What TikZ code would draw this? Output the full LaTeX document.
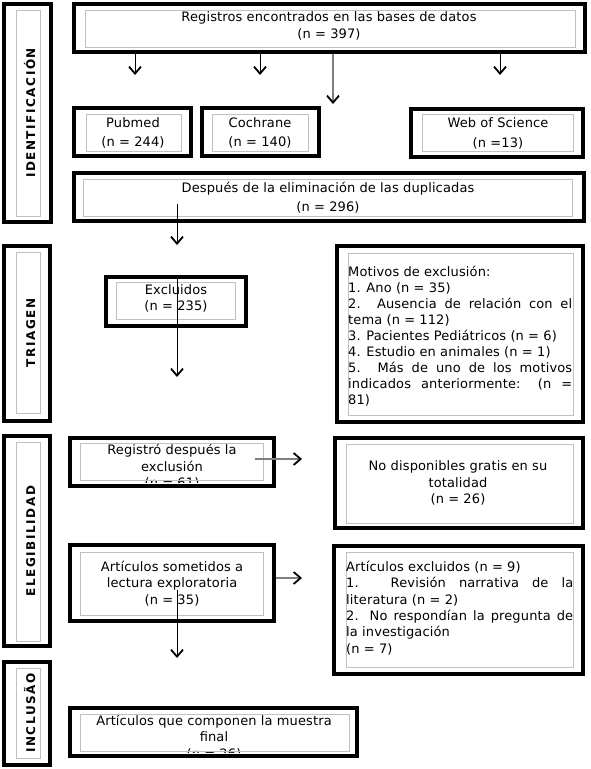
\documentclass[tikz,border=0pt]{standalone}
\usepackage{fontspec}
\setmainfont{DejaVu Sans}[LetterSpace=1]
\newfontfamily\labfont{DejaVu Sans Bold}[LetterSpace=13]
\usetikzlibrary{arrows.meta,fit}
\definecolor{innergray}{HTML}{C0C0C0}
\definecolor{linegray}{HTML}{7F7F7F}
\begin{document}
\begin{tikzpicture}[x=1pt,y=-1pt,
  obox/.style={draw=black, line width=3.4pt, inner sep=0pt},
  ibox/.style={draw=innergray, line width=1pt},
  txt/.style={font=\fontsize{13}{16.5}\selectfont, inner sep=0pt, align=center},
  txtw/.style={font=\fontsize{13}{19.5}\selectfont, inner sep=0pt, align=center},
  lab/.style={font=\labfont\fontsize{12}{14}\selectfont, inner sep=0pt, rotate=90, anchor=base},
  conn/.style={line width=1pt, draw=black, -{Straight Barb[length=7pt,width=12pt,line width=1.8pt 0 1,color=black]}},
  gconn/.style={conn, draw=linegray, line width=1.4pt}
]
\useasboundingbox (0,0) rectangle (590,769);
\fill[white] (0,0) rectangle (590,769);

% ---------- section labels ----------
\node[obox, fit={(4,4) (51,222)}] (l1) {};
\draw[ibox] (16,10) rectangle (40,216);
\node[lab] (l1t) at (35,113) {IDENTIFICACIÓN};

\node[obox, fit={(4,246) (50,421)}] (l2) {};
\draw[ibox] (16,252) rectangle (40,413);
\node[lab] (l2t) at (35,333) {TRIAGEN};

\node[obox, fit={(4,436) (50,646)}] (l3) {};
\draw[ibox] (16,442) rectangle (40,641);
\node[lab] (l3t) at (35,541) {ELEGIBILIDAD};

\node[obox, fit={(4,662) (50,765)}] (l4) {};
\draw[ibox] (16,668) rectangle (40,758);
\node[lab] (l4t) at (35,713) {INCLUSÃO};

% ---------- identification ----------
\node[obox, fit={(74,4) (585,52)}] (top) {};
\draw[ibox] (85,10) rectangle (575,47);
\node[txt] (topt) at (329,26.5) {\strut Registros encontrados en las bases de datos\\(n = 397)\strut};

\node[obox, fit={(74,108) (191,156)}] (pub) {};
\draw[ibox] (86,114) rectangle (181,151);
\node[txtw] (pubt) at (133,133) {\strut Pubmed\\(n = 244)\strut};

\node[obox, fit={(202,108) (319,156)}] (coch) {};
\draw[ibox] (212,114) rectangle (308,151);
\node[txtw] (cocht) at (260,133) {\strut Cochrane\\(n = 140)\strut};

\node[obox, fit={(411,109) (583,157)}] (wos) {};
\draw[ibox] (422,114) rectangle (573,151);
\node[txtw] (wost) at (498,133.5) {\strut Web of Science\\(n =13)\strut};

\node[obox, fit={(74,173) (584,221)}] (dup) {};
\draw[ibox] (83,179) rectangle (572,216);
\node[txtw] (dupt) at (328,198) {\strut Después de la eliminación de las duplicadas\\(n = 296)\strut};

% ---------- triage ----------
\node[obox, fit={(106,277) (246,326)}] (excl) {};
\draw[ibox] (116,282) rectangle (235,319);
\node[txt] (exclt) at (176,299) {\strut Excluidos\\(n = 235)\strut};

\node[obox, fit={(337,246) (583,422)}] (mot) {};
\draw[ibox] (348,253) rectangle (573,415);
\node[font=\fontsize{13}{16}\selectfont, inner sep=0pt, align=left, anchor=west] (mott) at (348,337) {\strut Motivos de exclusión:\\
1. Ano (n = 35)\\
\makebox[224pt][s]{2. Ausencia de relación con el}\\
tema (n = 112)\\
3. Pacientes Pediátricos (n = 6)\\
4. Estudio en animales (n = 1)\\
\makebox[224pt][s]{5. Más de uno de los motivos}\\
\makebox[224pt][s]{indicados anteriormente: (n =}\\
81)\strut};

% ---------- eligibility ----------
\begin{scope}
\clip (70,438) rectangle (274,482);
\node[txt] (regt) at (172,468) {\strut Registró después la\\exclusión\\(n = 61)\strut};
\end{scope}
\node[obox, fit={(70,438) (274,486)}] (reg) {};
\draw[ibox] (80,443) rectangle (263,480);

\node[obox, fit={(335,438) (583,528)}] (nod) {};
\draw[ibox] (346,444) rectangle (573,523);
\node[txt] (nodt) at (458,484) {\strut No disponibles gratis en su\\totalidad\\(n = 26)\strut};

\node[obox, fit={(70,545) (274,621)}] (art) {};
\draw[ibox] (80,552) rectangle (263,615);
\node[txt] (artt) at (172,584.5) {\strut Artículos sometidos a\\lectura exploratoria\\(n = 35)\strut};

\node[obox, fit={(334,546) (583,674)}] (artex) {};
\draw[ibox] (346,552) rectangle (573,667);
\node[font=\fontsize{13}{16.4}\selectfont, inner sep=0pt, align=left, anchor=west] (artext) at (346,609) {\strut Artículos excluidos (n = 9)\\
\makebox[227pt][s]{1. Revisión narrativa de la}\\
literatura (n = 2)\\
\makebox[227pt][s]{2. No respondían la pregunta de}\\
la investigación\\
(n = 7)\strut};

% ---------- inclusion ----------
\begin{scope}
\clip (70,708) rectangle (357,752.5);
\node[txt] (fint) at (214,738.5) {\strut Artículos que componen la muestra\\final\\(n = 26)\strut};
\end{scope}
\node[obox, fit={(70,708) (357,756)}] (fin) {};
\draw[ibox] (80,714) rectangle (349,751);

% ---------- connectors ----------
\coordinate (c1) at (135,75);
\coordinate (c2) at (260,75);
\coordinate (c3) at (333,104);
\coordinate (c4) at (500,75);
\coordinate (c5) at (177,245);
\coordinate (c6) at (177,377);
\coordinate (c7) at (302,459);
\coordinate (c8) at (302,578);
\coordinate (c9) at (177,658);

\draw[conn] (c1 |- top.south) -- (c1);
\draw[conn] (c2 |- top.south) -- (c2);
\draw[gconn] (c3 |- top.south) -- (c3);
\draw[conn] (c4 |- top.south) -- (c4);
\draw[conn] (c5 |- dup.south) ++(0,-19) -- (c5);
\draw[conn] (c6 |- excl.north) -- (c6);
\draw[gconn] (c7 -| reg.east) ++(-21,0) -- (c7);
\draw[gconn] (c8 -| art.east) -- (c8);
\draw[conn] (c9 |- art.south) ++(0,-33) -- (c9);
\end{tikzpicture}
\end{document}
